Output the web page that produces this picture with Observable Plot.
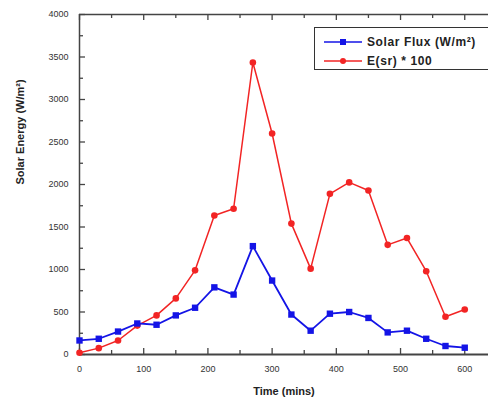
<!DOCTYPE html>
<html>
<head>
<meta charset="utf-8">
<script src="https://cdn.jsdelivr.net/npm/d3@7"></script>
<script src="https://cdn.jsdelivr.net/npm/@observablehq/plot@0.6"></script>
<style>
  html, body { margin: 0; padding: 0; background: #fff; overflow: hidden; }
  #wrap { position: relative; width: 488px; height: 404px; overflow: hidden; }
  #legend { position: absolute; left: 314px; top: 27px; width: 200px; height: 43px;
    border: 1.3px solid #333; background: #fff; box-sizing: border-box;
    font: bold 12px "Liberation Sans", Arial, sans-serif; letter-spacing: 0.6px; color: #222; }
  .row { position: absolute; left: 8px; height: 15px; display: flex; align-items: center; white-space: nowrap; }
  .row svg { margin-right: 4px; }
</style>
</head>
<body>
<div id="wrap"></div>
<script>
const time = [0,30,60,90,120,150,180,210,240,270,300,330,360,390,420,450,480,510,540,570,600];
const solarFlux = [165,185,270,365,350,460,550,790,705,1275,870,470,280,480,500,430,260,280,185,100,80];
const esr100 = [20,75,165,340,460,660,990,1635,1715,3435,2600,1540,1010,1890,2025,1930,1290,1370,980,445,530];
const seriesNames = ["Solar Flux (W/m\u00b2)", "E(sr) * 100"];
const seriesColors = ["#1414e6", "#f22424"];
const xMajor = [0,100,200,300,400,500,600];
const xMinor = [50,150,250,350,450,550];
const yMajor = [0,500,1000,1500,2000,2500,3000,3500,4000];
const yMinor = [250,750,1250,1750,2250,2750,3250,3750];
const xLabel = "Time (mins)";
const yLabel = "Solar Energy (W/m\u00b2)";

const fluxData = time.map((t, i) => ({t, v: solarFlux[i]}));
const esrData = time.map((t, i) => ({t, v: esr100[i]}));

const xMax = 637, yMax = 4000;
const pxX = (488 - 79) / xMax;
const pxY = (404 - 14 - 50) / yMax;
const fmt = d3.format("d");

const chart = Plot.plot({
  width: 488, height: 404,
  marginLeft: 79, marginRight: 0, marginTop: 14, marginBottom: 50,
  style: {fontFamily: "'Liberation Sans', Arial, sans-serif", background: "#fff"},
  x: {domain: [0, xMax]},
  y: {domain: [0, yMax]},
  marks: [
    Plot.ruleY([0], {stroke: "#444", strokeWidth: 2}),
    Plot.ruleY([yMax], {stroke: "#444", strokeWidth: 1.5}),
    Plot.ruleX([0], {stroke: "#444", strokeWidth: 1.5}),
    Plot.ruleX(xMajor, {x: d => d, y1: 0, y2: 6 / pxY, stroke: "#444", strokeWidth: 1.3}),
    Plot.ruleX(xMinor, {x: d => d, y1: 0, y2: 4 / pxY, stroke: "#444", strokeWidth: 1.3}),
    Plot.ruleX(xMajor, {x: d => d, y1: yMax, y2: yMax - 6 / pxY, stroke: "#444", strokeWidth: 1.3}),
    Plot.ruleX(xMinor, {x: d => d, y1: yMax, y2: yMax - 4 / pxY, stroke: "#444", strokeWidth: 1.3}),
    Plot.ruleY(yMajor, {y: d => d, x1: 0, x2: 6 / pxX, stroke: "#444", strokeWidth: 1.3}),
    Plot.ruleY(yMinor, {y: d => d, x1: 0, x2: 4 / pxX, stroke: "#444", strokeWidth: 1.3}),
    Plot.axisX({ticks: xMajor, tickSize: 0, tickPadding: 11, fontSize: 9, fill: "#333", label: null, tickFormat: fmt}),
    Plot.axisY({ticks: yMajor, tickSize: 0, tickPadding: 11, fontSize: 9, fill: "#333", label: null, tickFormat: fmt}),
    Plot.text([xLabel], {frameAnchor: "bottom", dy: 40, fontSize: 11, fontWeight: "bold", fill: "#222"}),
    Plot.text([yLabel], {frameAnchor: "left", dx: -59, rotate: -90, fontSize: 11, fontWeight: "bold", fill: "#222"}),
    Plot.line(esrData, {x: "t", y: "v", stroke: seriesColors[1], strokeWidth: 1.5}),
    Plot.dot(esrData, {x: "t", y: "v", fill: seriesColors[1], r: 3.3, symbol: "circle"}),
    Plot.line(fluxData, {x: "t", y: "v", stroke: seriesColors[0], strokeWidth: 1.8}),
    Plot.dot(fluxData, {x: "t", y: "v", fill: seriesColors[0], r: 3.6, symbol: "square"})
  ]
});

const wrap = document.getElementById("wrap");
wrap.appendChild(chart);

const legend = document.createElement("div");
legend.id = "legend";
legend.innerHTML = seriesNames.map((name, i) => `
  <div class="row" style="top:${6 + i * 19}px">
    <svg width="40" height="10">
      <line x1="1" y1="5" x2="39" y2="5" stroke="${seriesColors[i]}" stroke-width="1.5"/>
      ${i === 0 ? `<rect x="17" y="2" width="6" height="6" fill="${seriesColors[i]}"/>` : `<circle cx="20" cy="5" r="3" fill="${seriesColors[i]}"/>`}
    </svg>
    <span>${name}</span>
  </div>`).join("");
wrap.appendChild(legend);
</script>
</body>
</html>
